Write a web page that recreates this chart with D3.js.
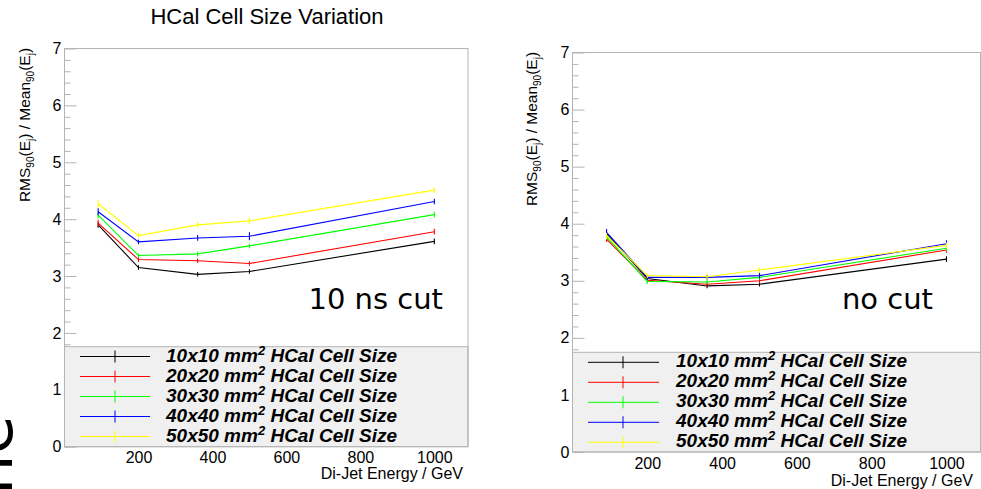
<!DOCTYPE html>
<html>
<head>
<meta charset="utf-8">
<script src="https://cdn.jsdelivr.net/npm/d3@7"></script>
<style>
  body { margin: 0; background: #fff; }
  svg { display: block; }
</style>
</head>
<body>
<svg id="chart" width="981" height="489"></svg>
<script>
// values
const energies = [91, 200, 360, 500, 1000];
const cellSizes = ["10x10", "20x20", "30x30", "40x40", "50x50"];
const colors = ["#000000", "#ff0000", "#00ff00", "#0000ff", "#ffff00"];

// RMS90/Mean90, 10 ns timing cut (one row per cell size)
const cut10ns = [
    [3.90, 3.15, 3.03, 3.08, 3.61],
    [3.93, 3.29, 3.27, 3.22, 3.78],
    [4.07, 3.36, 3.39, 3.53, 4.08],
    [4.13, 3.60, 3.67, 3.70, 4.31],
    [4.27, 3.71, 3.90, 3.97, 4.51]
];
const err10ns = [
    [0.05, 0.04, 0.04, 0.04, 0.05],
    [0.06, 0.04, 0.04, 0.04, 0.05],
    [0.06, 0.04, 0.04, 0.04, 0.05],
    [0.06, 0.04, 0.05, 0.07, 0.05],
    [0.07, 0.05, 0.05, 0.05, 0.05]
];
// no timing cut
const noCut = [
    [3.83, 3.04, 2.91, 2.94, 3.38],
    [3.73, 3.01, 2.94, 3.00, 3.54],
    [3.77, 2.99, 2.98, 3.06, 3.57],
    [3.85, 3.06, 3.06, 3.09, 3.65],
    [3.79, 3.09, 3.07, 3.19, 3.62]
];
const errNoCut = [
    [0.05, 0.04, 0.04, 0.04, 0.05],
    [0.05, 0.04, 0.04, 0.05, 0.05],
    [0.05, 0.04, 0.04, 0.04, 0.05],
    [0.06, 0.04, 0.04, 0.05, 0.06],
    [0.05, 0.04, 0.05, 0.05, 0.05]
];
const yTicks = [0, 1, 2, 3, 4, 5, 6, 7];
const xTicks = [200, 400, 600, 800, 1000];
const xDomain = [0, 1091];
const yDomain = [0, 7];

const frameGrey = "#b4b4b4";
const helv = "'Liberation Sans', Arial, Helvetica, sans-serif";
const svg = d3.select("#chart");

svg.append("text")
    .attr("x", 267).attr("y", 23.5)
    .attr("text-anchor", "middle")
    .style("font-family", helv).style("font-size", "22px")
    .text("HCal Cell Size Variation");

// cut-off page text at the left edge
svg.append("text")
    .attr("transform", "translate(12,495) rotate(-90)")
    .style("font-family", "'DejaVu Sans', sans-serif").style("font-size", "64px")
    .text("ne");

const panels = [
    {
        values: cut10ns, errors: err10ns, label: "10 ns cut",
        left: 64.5, top: 48.5, right: 468, bottom: 446.7, legendTop: 346.7,
        yLabelX: 30, yLabelY: 125, labelX: 443,
        xTitleX: 463, xTitleY: 478.5, xPad: 5,
        legLine: [80, 150], legMark: 115, legText: 166, legRow0: 356.5
    },
    {
        values: noCut, errors: errNoCut, label: "no cut",
        left: 572.5, top: 52.5, right: 980.5, bottom: 452, legendTop: 352.3,
        yLabelX: 537, yLabelY: 129, labelX: 933,
        xTitleX: 973, xTitleY: 485.5, xPad: 6,
        legLine: [588, 659], legMark: 623, legText: 676, legRow0: 362.3
    }
];

panels.forEach(p => {
    const x = d3.scaleLinear().domain(xDomain).range([p.left, p.right]);
    const y = d3.scaleLinear().domain(yDomain).range([p.bottom, p.top]);
    const g = svg.append("g");

    g.append("rect")
        .attr("x", p.left).attr("y", p.top)
        .attr("width", p.right - p.left).attr("height", p.bottom - p.top)
        .attr("fill", "#fff");

    // minor y ticks
    const minor = d3.range(0, 7.001, 0.2).filter(v => Math.abs(v - Math.round(v)) > 1e-6);
    g.append("g")
        .attr("transform", `translate(${p.left},0)`)
        .call(d3.axisLeft(y).tickValues(minor).tickSizeInner(-6).tickSizeOuter(0).tickFormat(""))
        .call(a => a.select(".domain").remove())
        .call(a => a.selectAll("line").attr("stroke", frameGrey));

    // major y ticks + labels
    g.append("g")
        .attr("transform", `translate(${p.left},0)`)
        .call(d3.axisLeft(y).tickValues(yTicks).tickSizeInner(-12).tickSizeOuter(0).tickPadding(3).tickFormat(d3.format("d")))
        .call(a => a.select(".domain").remove())
        .call(a => a.selectAll("line").attr("stroke", frameGrey))
        .call(a => a.selectAll("text").style("font-family", helv).style("font-size", "16px").attr("fill", "#000"));

    // x ticks + labels
    g.append("g")
        .attr("transform", `translate(0,${p.bottom})`)
        .call(d3.axisBottom(x).tickValues(xTicks).tickSizeInner(-12).tickSizeOuter(0).tickPadding(p.xPad).tickFormat(d3.format("d")))
        .call(a => a.select(".domain").remove())
        .call(a => a.selectAll("line").attr("stroke", frameGrey))
        .call(a => a.selectAll("text").style("font-family", helv).style("font-size", "16px").attr("fill", "#000"));

    // data
    const line = d3.line().x((d, i) => x(energies[i])).y(d => y(d));
    p.values.forEach((vals, s) => {
        g.append("path")
            .attr("d", line(vals))
            .attr("fill", "none")
            .attr("stroke", colors[s])
            .attr("stroke-width", 1.1);
        g.selectAll(null)
            .data(vals)
            .join("line")
            .attr("x1", (d, i) => x(energies[i])).attr("x2", (d, i) => x(energies[i]))
            .attr("y1", (d, i) => y(d - p.errors[s][i]))
            .attr("y2", (d, i) => y(d + p.errors[s][i]))
            .attr("stroke", colors[s])
            .attr("stroke-width", 1.1);
    });

    g.append("text")
        .attr("x", p.labelX).attr("y", 309)
        .attr("text-anchor", "end")
        .style("font-family", "'DejaVu Sans', sans-serif").style("font-size", "29px")
        .text(p.label);

    // legend
    g.append("rect")
        .attr("x", p.left).attr("y", p.legendTop)
        .attr("width", p.right - p.left).attr("height", p.bottom - p.legendTop)
        .attr("fill", "#f0f0f0").attr("stroke", frameGrey);

    cellSizes.forEach((c, s) => {
        const ly = p.legRow0 + s * 20;
        g.append("line")
            .attr("x1", p.legLine[0]).attr("x2", p.legLine[1])
            .attr("y1", ly).attr("y2", ly)
            .attr("stroke", colors[s]);
        g.append("line")
            .attr("x1", p.legMark).attr("x2", p.legMark)
            .attr("y1", ly - 6).attr("y2", ly + 6)
            .attr("stroke", colors[s]);
        const t = g.append("text")
            .attr("x", p.legText).attr("y", ly + 5)
            .style("font-family", helv).style("font-size", "19px")
            .style("font-weight", "bold").style("font-style", "italic");
        t.append("tspan").text(c + " mm");
        t.append("tspan").attr("dy", -7).style("font-size", "13px").text("2");
        t.append("tspan").attr("dy", 7).text(" HCal Cell Size");
    });

    // frame
    g.append("rect")
        .attr("x", p.left).attr("y", p.top)
        .attr("width", p.right - p.left).attr("height", p.bottom - p.top)
        .attr("fill", "none").attr("stroke", frameGrey);

    g.append("text")
        .attr("x", p.xTitleX).attr("y", p.xTitleY)
        .attr("text-anchor", "end")
        .style("font-family", helv).style("font-size", "16px")
        .text("Di-Jet Energy / GeV");

    const yl = g.append("text")
        .attr("transform", `translate(${p.yLabelX},${p.yLabelY}) rotate(-90)`)
        .attr("text-anchor", "middle")
        .style("font-family", helv).style("font-size", "15.5px");
    const sub = (txt) => {
        yl.append("tspan").attr("dy", 4).style("font-size", "10px").text(txt);
    };
    yl.append("tspan").text("RMS");
    sub("90");
    yl.append("tspan").attr("dy", -4).text("(E");
    sub("j");
    yl.append("tspan").attr("dy", -4).text(") / Mean");
    sub("90");
    yl.append("tspan").attr("dy", -4).text("(E");
    sub("j");
    yl.append("tspan").attr("dy", -4).text(")");
});
</script>
</body>
</html>
